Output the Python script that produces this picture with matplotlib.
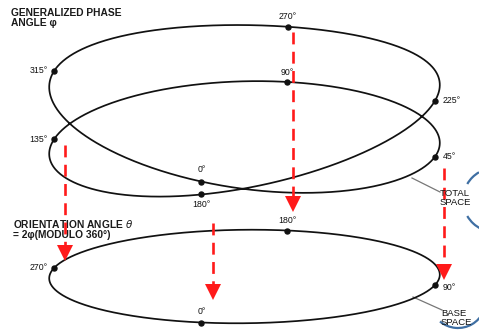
import numpy as np
import matplotlib
matplotlib.use("Agg")
import matplotlib.pyplot as plt
from matplotlib.patches import Polygon, Arc
from matplotlib import font_manager

plt.rcParams['font.family'] = ['Liberation Sans', 'DejaVu Sans']
_names = {f.name for f in font_manager.fontManager.ttflist}
TITLE_FAMILY = ['Liberation Sans Narrow', 'Liberation Sans', 'DejaVu Sans'] \
    if 'Liberation Sans Narrow' in _names else ['Liberation Sans', 'DejaVu Sans']

# ---------------- data ----------------
# generalized phase angle phi (total space), labelled points
phase_angles = [0, 45, 90, 135, 180, 225, 270, 315]
phase_labels = ['0°', '45°', '90°', '135°', '180°', '225°', '270°', '315°']
# orientation angle theta = 2 phi (base space), labelled points
orient_angles = [0, 90, 180, 270]
orient_labels = ['0°', '90°', '180°', '270°']

# lift of the total-space curve above the base ellipse (pixels)
lift_phi = [0, 5.7, 13.6, 22.7, 35.3, 45, 51.4, 64.4, 75.8, 90, 97, 107.1,
            118.7, 135, 164, 180, 186.4, 193.6, 202.7, 218.4, 225, 231.4,
            241.8, 255.8, 270, 277, 287.1, 298.7, 315, 334, 348]
lift_val = [142.5, 133.3, 129.3, 126.8, 121.8, 125, 132.7, 141.4, 148, 148.5,
            146.8, 143.7, 137.6, 134, 118, 125.5, 134.3, 143.3, 157.8, 182.4,
            183, 189.7, 193.1, 198, 206.5, 206.8, 205.7, 204.6, 195, 175.2, 158.1]

# projection arrows: x, y_start, y_tip
arrow_x = [65, 293, 444, 213]
arrow_y0 = [145, 32, 168, 223]
arrow_y1 = [261, 212, 280, 300]

# ---------------- geometry ----------------
CX, CY = 244.5, 276.5
UX, UY = 190.5, 8.5
VX, VY = 43.0, -46.0


def base_xy(theta_deg):
    t = np.radians(theta_deg)
    return CX + UX * np.sin(t) - VX * np.cos(t), CY + UY * np.sin(t) - VY * np.cos(t)


# smooth periodic fit of the lift
ph = np.radians(np.array(lift_phi))
cols = [np.ones_like(ph)]
for k in range(1, 5):
    cols += [np.cos(k * ph), np.sin(k * ph)]
A = np.stack(cols, axis=1)
coef, *_ = np.linalg.lstsq(A, np.array(lift_val), rcond=None)


def lift(phi_deg):
    p = np.radians(phi_deg)
    c = [np.ones_like(p)]
    for k in range(1, 5):
        c += [np.cos(k * p), np.sin(k * p)]
    return np.stack(c, axis=-1) @ coef


def total_xy(phi_deg):
    x, y = base_xy(2 * np.asarray(phi_deg, dtype=float))
    return x, y - lift(np.asarray(phi_deg, dtype=float))


# ---------------- figure ----------------
fig = plt.figure(figsize=(4.79, 3.35), dpi=100)
ax = fig.add_axes([0, 0, 1, 1])
ax.set_xlim(0, 479)
ax.set_ylim(335, 0)
ax.axis('off')

ink = '#111111'
lw = 1.25

# total space curve
phis = np.linspace(0, 360, 1200)
tx, ty = total_xy(phis)
ax.plot(tx, ty, color=ink, lw=lw, solid_capstyle='round', zorder=3)

# base ellipse
ths = np.linspace(0, 360, 800)
bx, by = base_xy(ths)
ax.plot(bx, by, color=ink, lw=lw, zorder=3)

fs = 6.3
# total-space labelled points
t_off = {0: (0, -12, 'center'), 45: (8, 0, 'left'), 90: (0, -9, 'center'),
         135: (-6, 0, 'right'), 180: (0, 10, 'center'), 225: (8, 0, 'left'),
         270: (0, -10, 'center'), 315: (-6, -1, 'right')}
for a, lab in zip(phase_angles, phase_labels):
    x, y = total_xy(a)
    ax.plot([x], [y], 'o', color=ink, ms=3.6, zorder=4)
    dx, dy, ha = t_off[a]
    ax.text(x + dx, y + dy, lab, fontsize=fs, ha=ha, va='center', color=ink)

b_off = {0: (0, -11, 'center'), 90: (8, 2, 'left'), 180: (0, -10, 'center'),
         270: (-6, -1, 'right')}
for a, lab in zip(orient_angles, orient_labels):
    x, y = base_xy(a)
    ax.plot([x], [y], 'o', color=ink, ms=3.6, zorder=4)
    dx, dy, ha = b_off[a]
    ax.text(x + dx, y + dy, lab, fontsize=fs, ha=ha, va='center', color=ink)

# red projection arrows
red = '#ff1a1a'
for x, y0, y1 in zip(arrow_x, arrow_y0, arrow_y1):
    ax.plot([x, x], [y0, y1 - 15], color=red, lw=1.9, ls=(0, (4.5, 2.8)), zorder=5)
    ax.add_patch(Polygon([[x - 8, y1 - 16], [x + 8, y1 - 16], [x, y1]],
                         closed=True, color=red, zorder=6, lw=0))

# titles
ax.text(11, 8, 'GENERALIZED PHASE\nANGLE φ', fontsize=7.4, ha='left', va='top',
        color='#1a1a1a', linespacing=1.05, family=TITLE_FAMILY, fontweight='bold')
ax.text(13, 218, 'ORIENTATION ANGLE $\\theta$\n= 2φ(MODULO 360°)', fontsize=7.4,
        ha='left', va='top', color='#1a1a1a', linespacing=1.05,
        family=TITLE_FAMILY, fontweight='bold')

# leader lines and space labels
ax.plot([412, 440], [178, 192], color='#777777', lw=0.9, zorder=2)
ax.text(440, 189, 'TOTAL\nSPACE', fontsize=6.8, ha='left', va='top', color=ink,
        linespacing=0.95, zorder=7, family=TITLE_FAMILY)
ax.plot([413, 442], [297, 310], color='#777777', lw=0.9, zorder=2)
ax.text(441, 309, 'BASE\nSPACE', fontsize=6.8, ha='left', va='top', color=ink,
        linespacing=0.95, zorder=7, family=TITLE_FAMILY)

# blue bracket fragments at the right edge
blue = '#3f6fa3'
ax.add_patch(Arc((495, 200), 64, 64, theta1=210, theta2=240, color=blue, lw=1.6))
ax.add_patch(Arc((495, 200), 64, 64, theta1=115, theta2=150, color=blue, lw=1.6))
ax.add_patch(Arc((458, 300), 56, 56, theta1=-10, theta2=130, color=blue, lw=1.6))

fig.savefig('out.png', dpi=100)
